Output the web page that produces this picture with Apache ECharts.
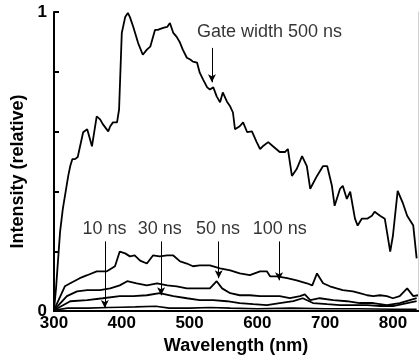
<!DOCTYPE html>
<html>
<head>
<meta charset="utf-8">
<script src="https://cdn.jsdelivr.net/npm/echarts@6/dist/echarts.min.js"></script>
<style>html,body{margin:0;padding:0;background:#fff;}#c{width:419px;height:360px;}</style>
</head>
<body>
<div id="c"></div>
<script>
// x tick labels
const xTicks = [300, 400, 500, 600, 700, 800];
const yTickLabels = [0, 1];

// Series: [wavelength (nm), relative intensity]
const gate500 = [[300,0.003],[303,0.076],[309,0.266],[313,0.342],[321,0.452],[324,0.485],[327,0.508],[331,0.508],[335,0.515],[343,0.598],[349,0.608],[356,0.551],[363,0.651],[368,0.641],[372,0.625],[380,0.601],[383,0.618],[387,0.631],[393,0.631],[396,0.674],[400,0.930],[405,0.983],[409,0.997],[412,0.983],[417,0.950],[424,0.897],[431,0.857],[437,0.874],[442,0.884],[449,0.940],[453,0.940],[461,0.947],[467,0.950],[471,0.963],[476,0.930],[481,0.917],[486,0.897],[490,0.874],[496,0.847],[501,0.841],[505,0.834],[511,0.831],[515,0.797],[520,0.774],[526,0.748],[530,0.741],[535,0.748],[540,0.718],[545,0.698],[549,0.731],[555,0.701],[560,0.684],[564,0.664],[567,0.608],[574,0.618],[579,0.631],[585,0.598],[592,0.601],[599,0.565],[604,0.542],[608,0.551],[616,0.565],[623,0.551],[633,0.532],[641,0.532],[645,0.542],[651,0.452],[658,0.475],[666,0.518],[673,0.485],[678,0.409],[688,0.452],[697,0.485],[703,0.485],[710,0.419],[714,0.352],[722,0.409],[726,0.419],[732,0.375],[737,0.399],[744,0.309],[748,0.286],[754,0.309],[762,0.309],[769,0.319],[773,0.332],[781,0.319],[788,0.309],[796,0.199],[800,0.252],[807,0.402],[815,0.359],[821,0.319],[830,0.286],[832,0.292],[835,0.176]];
const gate100 = [[300,0.003],[316,0.083],[324,0.093],[338,0.110],[349,0.120],[363,0.133],[378,0.133],[390,0.150],[397,0.199],[405,0.193],[412,0.183],[419,0.186],[427,0.169],[437,0.159],[446,0.186],[456,0.183],[467,0.186],[476,0.186],[486,0.166],[496,0.159],[505,0.150],[515,0.153],[530,0.153],[545,0.143],[560,0.136],[574,0.126],[589,0.120],[604,0.133],[614,0.133],[619,0.116],[629,0.116],[644,0.110],[658,0.103],[673,0.093],[681,0.086],[688,0.126],[697,0.093],[707,0.083],[717,0.076],[726,0.070],[741,0.066],[751,0.060],[762,0.053],[771,0.050],[781,0.053],[791,0.050],[800,0.043],[810,0.050],[821,0.076],[830,0.050],[837,0.053]];
const gate50 = [[300,0.003],[319,0.050],[334,0.066],[349,0.070],[368,0.070],[383,0.076],[397,0.086],[408,0.100],[422,0.093],[437,0.086],[452,0.093],[467,0.086],[481,0.083],[496,0.076],[515,0.076],[530,0.076],[540,0.100],[548,0.076],[560,0.060],[574,0.053],[589,0.053],[604,0.050],[619,0.050],[633,0.050],[648,0.043],[663,0.050],[670,0.056],[678,0.037],[692,0.043],[712,0.037],[732,0.033],[751,0.027],[771,0.027],[791,0.020],[810,0.027],[825,0.037],[835,0.043]];
const gate30 = [[300,0.003],[324,0.033],[349,0.037],[372,0.043],[397,0.050],[417,0.050],[437,0.053],[456,0.060],[476,0.050],[496,0.043],[515,0.037],[535,0.037],[555,0.033],[574,0.027],[594,0.023],[614,0.020],[633,0.027],[653,0.033],[667,0.043],[682,0.027],[703,0.023],[722,0.020],[741,0.020],[762,0.020],[781,0.017],[800,0.017],[821,0.027],[835,0.033]];
const gate10 = [[300,0.003],[320,0.010],[350,0.010],[380,0.012],[400,0.013],[420,0.014],[450,0.016],[470,0.010],[500,0.010],[530,0.012],[560,0.010],[600,0.008],[650,0.010],[700,0.008],[750,0.008],[800,0.006],[835,0.006]];

// Annotations
const annText = ['Gate width 500 ns', '10 ns', '30 ns', '50 ns', '100 ns'];
const annTextX = [618, 374.5, 456, 542, 633];
const annTextY = [0.934, 0.276, 0.276, 0.276, 0.276];
const arrowX = [533, 375, 458, 543, 632];
const arrowFrom = [0.880, 0.233, 0.233, 0.233, 0.233];
const arrowTo = [0.765, 0.010, 0.053, 0.110, 0.103];

const FONT = "'Liberation Sans', Arial, sans-serif";
const XMIN = 300, XMAX = 837;

function lineSeries(name, data, w) {
  return { name, type: 'line', data, symbol: 'none', smooth: false,
    lineStyle: { color: '#000', width: w }, itemStyle: { color: '#000' }, z: 3, silent: true };
}

const chart = echarts.init(document.getElementById('c'), null, { renderer: 'canvas' });
chart.setOption({
  animation: false,
  backgroundColor: '#fff',
  grid: { left: 54, right: 1, top: 12, bottom: 47, containLabel: false },
  xAxis: [{
    type: 'value', min: XMIN, max: XMAX, interval: 100,
    name: 'Wavelength (nm)', nameLocation: 'middle', nameGap: 25,
    nameTextStyle: { fontFamily: FONT, fontWeight: 'bold', fontSize: 18, color: '#000' },
    axisLine: { show: true, lineStyle: { color: '#000', width: 2 } },
    axisTick: { show: false },
    splitLine: { show: false },
    axisLabel: { fontFamily: FONT, fontWeight: 'bold', fontSize: 17, color: '#000', margin: 4,
      showMaxLabel: false,
      formatter: v => xTicks.indexOf(v) >= 0 ? String(v) : '' }
  }, {
    type: 'value', min: XMIN, max: XMAX, position: 'top',
    axisLine: { show: true, lineStyle: { color: '#000', width: 2 } },
    axisTick: { show: false }, axisLabel: { show: false }, splitLine: { show: false }
  }],
  yAxis: [{
    type: 'value', min: 0, max: 1, interval: 0.2,
    name: 'Intensity (relative)', nameLocation: 'middle', nameGap: 26,
    nameTextStyle: { fontFamily: FONT, fontWeight: 'bold', fontSize: 18, color: '#000', padding: [0, 20, 0, 0] },
    axisLine: { show: true, lineStyle: { color: '#000', width: 2 } },
    axisTick: { show: true, inside: true, length: 5, lineStyle: { color: '#000', width: 2 } },
    splitLine: { show: false },
    axisLabel: { fontFamily: FONT, fontWeight: 'bold', fontSize: 17, color: '#000', margin: 7,
      formatter: v => yTickLabels.indexOf(Math.round(v * 1000) / 1000) >= 0 ? String(Math.round(v)) : '' }
  }, {
    type: 'value', min: 0, max: 1, position: 'right',
    axisLine: { show: true, lineStyle: { color: '#d0d0d0', width: 1 } },
    axisTick: { show: false }, axisLabel: { show: false }, splitLine: { show: false }
  }],
  series: [
    lineSeries('500 ns', gate500, 1.8),
    lineSeries('100 ns', gate100, 1.8),
    lineSeries('50 ns', gate50, 1.8),
    lineSeries('30 ns', gate30, 1.8),
    lineSeries('10 ns', gate10, 1.6),
    {
      type: 'scatter', symbolSize: 0, silent: true, z: 5,
      data: annText.map((t, i) => ({ value: [annTextX[i], annTextY[i]], name: t })),
      label: { show: true, position: 'inside', formatter: p => p.name,
        fontFamily: FONT, fontSize: 18, color: '#000' },
      markLine: {
        silent: true, animation: false,
        symbol: ['none', 'arrow'], symbolSize: [6, 8],
        lineStyle: { color: '#000', width: 1, type: 'solid' },
        label: { show: false },
        data: arrowX.map((x, i) => [{ coord: [x, arrowFrom[i]] }, { coord: [x, arrowTo[i]] }])
      }
    }
  ]
});
</script>
</body>
</html>
